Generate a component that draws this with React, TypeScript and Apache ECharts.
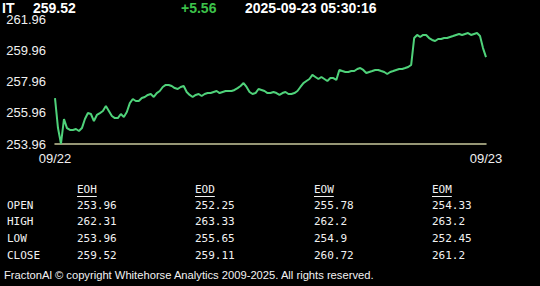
import React, { useEffect, useRef } from "react";
import * as echarts from "echarts";

const symbol = "IT";
const lastPrice = "259.52";
const change = "+5.56";
const stamp = "2025-09-23 05:30:16";

const yMin = 253.96;
const yMax = 261.96;
const yStep = 2;

const priceSeries: number[] = [
  256.9, 254.98, 253.98, 255.56, 254.98, 254.86, 254.86, 254.92, 254.79, 254.98,
  255.56, 255.94, 255.88, 255.43, 255.82, 255.94, 256.07, 256.39, 256.07, 255.75,
  255.62, 255.62, 255.88, 255.69, 256.01, 256.58, 256.84, 256.71, 256.71, 256.9,
  256.97, 257.1, 257.16, 256.97, 257.22, 257.35, 257.61, 257.74, 257.74, 257.67,
  257.54, 257.48, 257.61, 257.67, 257.29, 257.1, 256.97, 257.1, 257.16, 257.03,
  257.16, 257.22, 257.22, 257.29, 257.35, 257.22, 257.29, 257.35, 257.35, 257.35,
  257.42, 257.54, 257.67, 257.86, 257.61, 257.29, 257.16, 257.22, 257.48, 257.42,
  257.35, 257.22, 257.22, 257.29, 257.22, 257.1, 257.22, 257.29, 257.16, 257.16,
  257.22, 257.35, 257.61, 257.86, 257.99, 258.12, 258.38, 258.25, 258.12, 258.25,
  258.12, 257.99, 258.18, 258.18, 258.06, 258.7, 258.63, 258.57, 258.57, 258.63,
  258.63, 258.76, 258.82, 258.7, 258.5, 258.57, 258.63, 258.7, 258.7, 258.63,
  258.57, 258.44, 258.57, 258.63, 258.7, 258.76, 258.76, 258.82, 258.89, 259.02,
  260.74, 260.94, 260.81, 260.94, 260.94, 260.74, 260.62, 260.55, 260.68, 260.68,
  260.74, 260.74, 260.81, 260.87, 260.94, 261.0, 260.94, 261.0, 261.06, 260.94,
  261.0, 261.06, 260.87, 260.1, 259.52,
];

const startDate = "09/22";
const endDate = "09/23";

const tableColumns = ["EOH", "EOD", "EOW", "EOM"];
const tableRows = ["OPEN", "HIGH", "LOW", "CLOSE"];
const eohValues = ["253.96", "262.31", "253.96", "259.52"];
const eodValues = ["252.25", "263.33", "255.65", "259.11"];
const eowValues = ["255.78", "262.2", "254.9", "260.72"];
const eomValues = ["254.33", "263.2", "252.45", "261.2"];
const footer = "FractonAl \u00a9 copyright Whitehorse Analytics 2009-2025. All rights reserved.";

export default function App() {
  const ref = useRef<HTMLDivElement>(null);
  useEffect(() => {
    if (!ref.current) return;
    const chart = echarts.init(ref.current, null, { renderer: "svg" });
    const n = priceSeries.length;
    const categories = priceSeries.map((_, i) =>
      i === 0 ? startDate : i === n - 1 ? endDate : `t${i}`
    );
    const columnValues = [eohValues, eodValues, eowValues, eomValues];
    const colX = [77, 195, 314, 432];
    const rowY = [205, 221, 238, 255];
    const mono = "'DejaVu Sans Mono', 'Liberation Mono', monospace";
    const sans = "'Liberation Sans', Arial, sans-serif";
    const graphics: any[] = [];
    const headerItems = [
      { x: 2, text: symbol, fill: "#ffffff" },
      { x: 33, text: lastPrice, fill: "#ffffff" },
      { x: 181, text: change, fill: "#3cc24a" },
      { x: 245, text: stamp, fill: "#ffffff" },
    ];
    headerItems.forEach((h) =>
      graphics.push({
        type: "text",
        left: h.x,
        top: 1,
        z: 10,
        style: { text: h.text, fill: h.fill, font: `bold 14px ${sans}` },
      })
    );
    tableColumns.forEach((c, ci) => {
      graphics.push({
        type: "text",
        x: colX[ci],
        y: 189,
        style: { text: c, fill: "#f2f2f2", font: `11px ${mono}`, verticalAlign: "middle" },
      });
      graphics.push({
        type: "line",
        shape: { x1: colX[ci], y1: 196.5, x2: colX[ci] + c.length * 6.6, y2: 196.5 },
        style: { stroke: "#f2f2f2", lineWidth: 1 },
      });
      columnValues[ci].forEach((v, ri) =>
        graphics.push({
          type: "text",
          x: colX[ci],
          y: rowY[ri],
          style: { text: v, fill: "#f2f2f2", font: `11px ${mono}`, verticalAlign: "middle" },
        })
      );
    });
    tableRows.forEach((r, ri) =>
      graphics.push({
        type: "text",
        x: 7,
        y: rowY[ri],
        style: { text: r, fill: "#f2f2f2", font: `11px ${mono}`, verticalAlign: "middle" },
      })
    );
    graphics.push({
      type: "text",
      x: 4,
      y: 275,
      style: { text: footer, fill: "#f2f2f2", font: `11.2px ${sans}`, verticalAlign: "middle" },
    });

    chart.setOption({
      animation: false,
      backgroundColor: "#000000",
      grid: { left: 55, right: 54, top: 19, bottom: 142, containLabel: false },
      xAxis: {
        type: "category",
        data: categories,
        boundaryGap: false,
        axisLine: { show: true, lineStyle: { color: "#c8c89c", width: 1.5 } },
        axisTick: { show: false },
        axisLabel: {
          color: "#f0f0f0",
          fontSize: 13,
          fontFamily: sans,
          margin: 8,
          interval: (i: number) => i === 0 || i === n - 1,
          formatter: (v: string) => (v === startDate || v === endDate ? v : ""),
        },
        splitLine: { show: false },
      },
      yAxis: {
        type: "value",
        min: yMin,
        max: yMax,
        interval: yStep,
        axisLine: { show: false },
        axisTick: { show: false },
        splitLine: { show: false },
        axisLabel: {
          color: "#f0f0f0",
          fontSize: 13,
          fontFamily: sans,
          margin: 9,
          formatter: (v: number) => v.toFixed(2),
        },
      },
      series: [
        {
          type: "line",
          data: priceSeries,
          showSymbol: false,
          symbol: "none",
          smooth: false,
          lineStyle: { color: "#4fd27a", width: 2 },
        },
      ],
      graphic: graphics,
    });
    return () => chart.dispose();
  }, []);
  return <div ref={ref} style={{ width: 540, height: 286, position: "fixed", left: 0, top: 0 }} />;
}
